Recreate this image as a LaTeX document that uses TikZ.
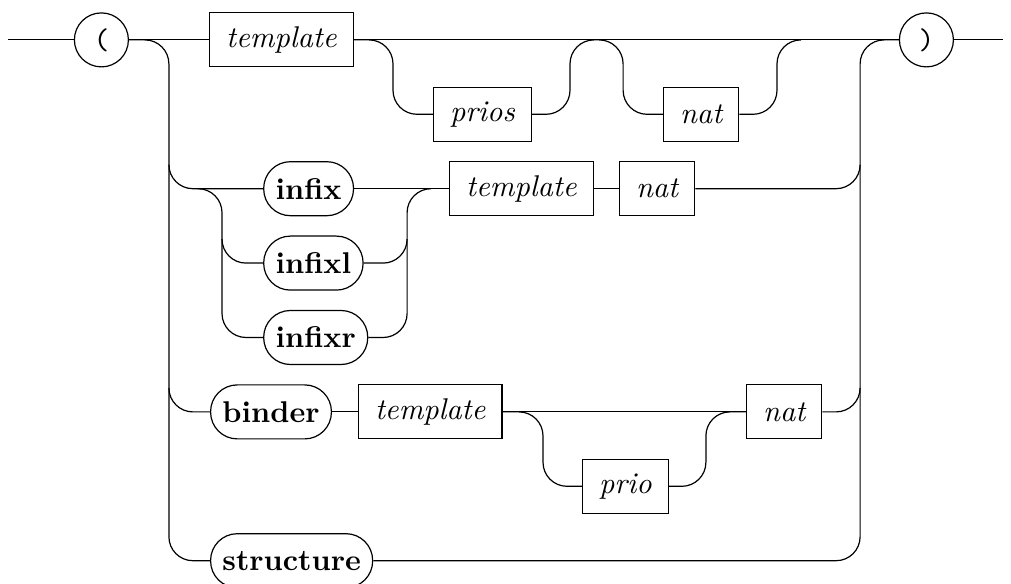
\documentclass[tikz,border=0pt]{standalone}
\usepackage{tikz}

\begin{document}
\begin{tikzpicture}[
  x=1pt, y=24.8pt,
  nonterm/.style={rectangle, draw, minimum height=18pt, inner xsep=5.5pt, anchor=west, font=\itshape},
  keyword/.style={rectangle, draw, rounded corners=8.9pt, minimum height=18pt, inner xsep=3.95pt, anchor=west, font=\bfseries},
  paren/.style={circle, draw, minimum size=18pt, inner sep=0pt, font=\ttfamily},
  rail/.style={draw, rounded corners=8pt}
]
\useasboundingbox (0pt,13.3pt) rectangle (337pt,-181.3pt);

% junction columns
\coordinate (start) at (2.7,0);
\coordinate (stop) at (334.3,0);
\coordinate (v1) at (56.3,0);
\coordinate (v3) at (74,0);
\coordinate (s1) at (131,0);
\coordinate (v4) at (135.7,0);
\coordinate (v5) at (181,0);
\coordinate (j1) at (190,0);
\coordinate (s2) at (207.7,0);
\coordinate (v6) at (235.3,0);
\coordinate (j2) at (259,0);
\coordinate (v2) at (286.7,0);

% terminals and nonterminals
\node[paren] (lpar) at (33.8,0) {(};
\node[paren] (rpar) at (308.8,0) {)};
\node[nonterm] (t1) at (69.7,0) {template};
\node[nonterm] (prios) at (144.3,-1) {prios};
\node[nonterm] (nat1) at (221,-1) {nat};
\node[keyword] (infix) at (87.7,-2) {infix};
\node[keyword] (infixl) at (87.7,-3) {infixl};
\node[keyword] (infixr) at (87.7,-4) {infixr};
\node[nonterm] (t2) at (149.7,-2) {template};
\node[nonterm] (nat2) at (206.3,-2) {nat};
\node[keyword] (binder) at (70,-5) {binder};
\node[nonterm] (t3) at (119.3,-5) {template};
\node[nonterm] (prio) at (194,-6) {prio};
\node[nonterm] (nat3) at (248.7,-5) {nat};
\node[keyword] (structure) at (70,-7) {structure};

% main line
\draw[rail] (start) -- (lpar.west);
\draw[rail] (lpar.east) -- (t1.west);
\draw[rail] (t1.east) -- (rpar.west);
\draw[rail] (rpar.east) -- (stop);

% optional prios, nat
\draw[rail] (t1.east) -| (s1 |- prios.west) -- (prios.west);
\draw[rail] (prios.east) -| (j1) -| (s2 |- nat1.west) -- (nat1.west);
\draw[rail] (nat1.east) -| (j2) -- ++(8pt,0);

% outer choice
\draw[rail] (lpar.east) -| (v1 |- structure.west) -- (structure.west);
\draw[rail] (v1 |- infix.west) ++(0,8pt) |- (infix.west);
\draw[rail] (v1 |- binder.west) ++(0,8pt) |- (binder.west);
\draw[rail] (structure.east) -| (v2) -- (rpar.west);
\draw[rail] (v2 |- nat2.east) ++(0,8pt) |- (nat2.east);
\draw[rail] (v2 |- nat3.east) ++(0,8pt) |- (nat3.east);

% infix alternatives
\draw[rail] (v3 |- infix.west) ++(-8pt,0) -| (v3 |- infixr.west) -- (infixr.west);
\draw[rail] (v3 |- infixl.west) ++(0,8pt) |- (infixl.west);
\draw[rail] (infix.east) -- (t2.west);
\draw[rail] (infixr.east) -| (v4 |- infix.east) -- ++(8pt,0);
\draw[rail] (v4 |- infixl.east) ++(0,8pt) |- (infixl.east);
\draw[rail] (t2.east) -- (nat2.west);

% binder
\draw[rail] (binder.east) -- (t3.west);
\draw[rail] (t3.east) -- (nat3.west);
\draw[rail] (t3.east) -| (v5 |- prio.west) -- (prio.west);
\draw[rail] (prio.east) -| (v6 |- nat3.west) -- (nat3.west);
\end{tikzpicture}
\end{document}
